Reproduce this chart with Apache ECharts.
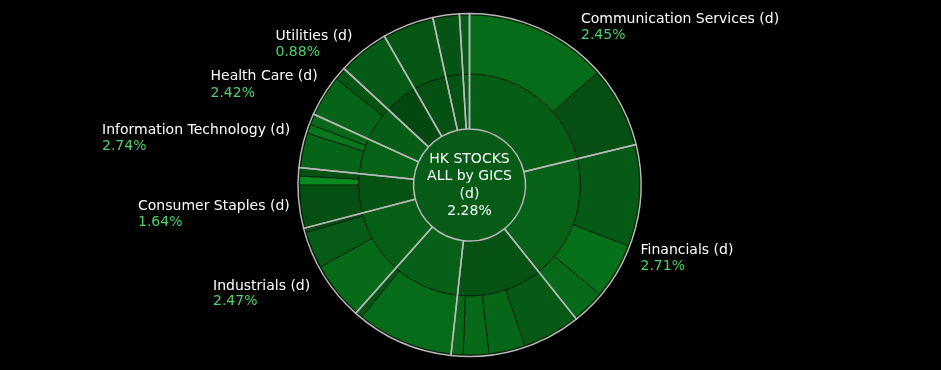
<!DOCTYPE html>
<html>
<head>
<meta charset="utf-8">
<script src="https://cdn.jsdelivr.net/npm/echarts@6/dist/echarts.min.js"></script>
<style>
html,body{margin:0;padding:0;background:#000;}
#chart{width:941px;height:370px;}
</style>
</head>
<body>
<div id="chart"></div>
<script>
// ---- data ----
const rootName = 'HK STOCKS\nALL by GICS\n(d)';
const rootChange = 2.28;
const sectorNames = ['Communication Services', 'Financials', 'Consumer Discretionary', 'Real Estate',
  'Industrials', 'Consumer Staples', 'Information Technology', 'Health Care', 'Utilities',
  'Materials', 'Energy', 'Others'];
const sectorChange = [2.45, 2.71, 1.57, 2.57, 2.47, 1.64, 2.74, 2.42, 0.88, 1.43, 1.57, 2.29];
// market-cap share (%) of each sub-group, in sector order
const pieceWeight = [
  [13.53, 7.67],
  [9.64, 5.28, 3.17],
  [5.44, 3.44, 2.42, 1.14],
  [9.17, 0.64],
  [5.47, 3.50, 0.42],
  [4.08, 0.83, 0.78],
  [3.31, 0.86, 1.00],
  [3.92, 1.19],
  [4.83],
  [4.83],
  [2.50],
  [0.94]
];
// daily change (%) of each sub-group
const pieceChange = [
  [3.43, 1.36],
  [2.14, 3.71, 3.29],
  [2.21, 3.07, 3.29, 3.14],
  [3.43, 1.71],
  [3.29, 2.29, 1.14],
  [1.36, 5.57, 1.43],
  [2.86, 4.14, 3.14],
  [2.86, 1.71],
  [2.14],
  [1.86],
  [1.71],
  [2.29]
];
const labelledSectors = ['Communication Services', 'Financials', 'Industrials', 'Consumer Staples',
  'Information Technology', 'Health Care', 'Utilities'];

// ---- layout (positions of labels) ----
const CX = 469.5, CY = 185;
const labelLayout = {
  'Communication Services': [581, 19, 35],
  'Financials': [640.5, 250.5, 266],
  'Industrials': [213, 286, 301.5],
  'Consumer Staples': [138, 206, 222],
  'Information Technology': [102, 130.5, 146],
  'Health Care': [210.5, 76.5, 93],
  'Utilities': [275.5, 36, 52]
};

function col(c) {
  let g = 60 + 14 * c;
  g = Math.max(40, Math.min(150, g));
  const r = Math.round(g * 0.06), b = Math.round(g * 0.235);
  return 'rgb(' + r + ',' + Math.round(g) + ',' + b + ')';
}

const sectorNodes = sectorNames.map(function (name, i) {
  return {
    name: name,
    itemStyle: { color: col(sectorChange[i]) },
    children: pieceWeight[i].map(function (w, j) {
      return { name: name + ' ' + (j + 1), value: w, itemStyle: { color: col(pieceChange[i][j]) } };
    })
  };
});
const sectorTotals = pieceWeight.map(function (arr, i) {
  return { name: sectorNames[i], value: arr.reduce(function (a, b) { return a + b; }, 0) };
});

const FONT = 'DejaVu Sans';
const graphics = [];
labelledSectors.forEach(function (name) {
  const i = sectorNames.indexOf(name);
  const p = labelLayout[name];
  graphics.push({ type: 'text', x: p[0], y: p[1], silent: true, z: 100,
    style: { text: name + ' (d)', fill: '#ffffff', fontSize: 14, fontFamily: FONT, align: 'left', verticalAlign: 'middle' } });
  graphics.push({ type: 'text', x: p[0], y: p[2], silent: true, z: 100,
    style: { text: sectorChange[i].toFixed(2) + '%', fill: '#4cd467', fontSize: 14, fontFamily: FONT, align: 'left', verticalAlign: 'middle' } });
});
graphics.push({ type: 'text', x: CX, y: CY + 0.5, silent: true, z: 100,
  style: { text: rootName + '\n' + rootChange.toFixed(2) + '%', fill: '#ffffff', fontSize: 14, fontFamily: FONT,
    lineHeight: 17.5, align: 'center', verticalAlign: 'middle' } });

const chart = echarts.init(document.getElementById('chart'), null, { renderer: 'canvas' });
chart.setOption({
  backgroundColor: '#000000',
  animation: false,
  graphic: graphics,
  series: [
    {
      type: 'sunburst',
      center: [CX, CY],
      radius: [0, 170],
      startAngle: 90,
      sort: null,
      nodeClick: false,
      emphasis: { disabled: true },
      data: [{
        name: rootName,
        itemStyle: { color: col(rootChange) },
        children: sectorNodes
      }],
      levels: [
        {},
        {
          r0: 0, r: 56,
          itemStyle: { borderWidth: 0 },
          label: { show: false }
        },
        {
          r0: 56, r: 111,
          itemStyle: { borderColor: 'rgba(1,38,8,0.9)', borderWidth: 1 },
          label: { show: false }
        },
        {
          r0: 111, r: 170,
          itemStyle: { borderColor: 'rgba(1,38,8,0.9)', borderWidth: 1 },
          label: { show: false }
        }
      ]
    },
    {
      type: 'pie',
      center: [CX, CY],
      radius: [56, 171.5],
      startAngle: 90,
      clockwise: true,
      silent: true,
      label: { show: false },
      labelLine: { show: false },
      emphasis: { disabled: true },
      itemStyle: { color: 'rgba(0,0,0,0)', borderColor: '#b9b9b9', borderWidth: 1.5 },
      data: sectorTotals
    }
  ]
});
</script>
</body>
</html>
